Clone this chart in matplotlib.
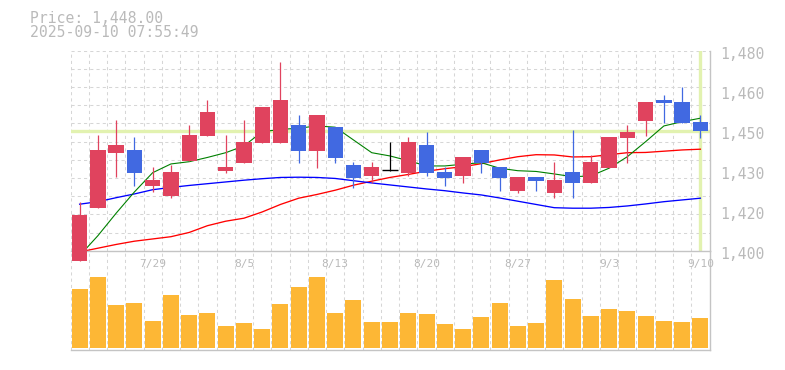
import matplotlib
matplotlib.use("Agg")
import matplotlib.pyplot as plt
from matplotlib.transforms import ScaledTranslation, blended_transform_factory
import numpy as np

# ---------------- data ----------------
dates = ["7/23", "7/24", "7/25", "7/28", "7/29", "7/30", "7/31", "8/1", "8/4", "8/5",
         "8/6", "8/7", "8/8", "8/12", "8/13", "8/14", "8/15", "8/18", "8/19", "8/20",
         "8/21", "8/22", "8/25", "8/26", "8/27", "8/28", "8/29", "9/1", "9/2", "9/3",
         "9/4", "9/5", "9/8", "9/9", "9/10"]

opens = [1396.0, 1417.2, 1439.2, 1440.3, 1426.0, 1422.0, 1436.0, 1446.0, 1432.0, 1435.2,
         1443.2, 1443.2, 1450.3, 1440.0, 1449.5, 1434.3, 1430.0, 1432.2, 1431.2, 1442.3,
         1431.5, 1430.0, 1440.3, 1433.5, 1424.0, 1429.5, 1423.2, 1431.5, 1427.2, 1433.2,
         1445.2, 1452.0, 1460.3, 1459.5, 1451.6]
highs = [1419.4, 1446.3, 1452.3, 1445.5, 1433.5, 1434.3, 1450.3, 1460.3, 1446.3, 1452.3,
         1457.5, 1475.6, 1454.3, 1454.3, 1449.5, 1435.5, 1435.5, 1443.5, 1445.6, 1447.5,
         1433.6, 1437.5, 1440.3, 1433.5, 1429.5, 1429.5, 1435.5, 1448.3, 1438.3, 1445.5,
         1450.3, 1459.5, 1462.3, 1465.5, 1454.3]
lows = [1396.0, 1417.2, 1429.4, 1426.0, 1423.4, 1421.2, 1436.0, 1446.0, 1431.2, 1435.2,
        1443.2, 1443.2, 1435.2, 1433.2, 1435.2, 1425.2, 1427.0, 1432.0, 1429.9, 1429.9,
        1426.0, 1427.2, 1431.2, 1424.0, 1423.2, 1424.0, 1421.2, 1421.2, 1427.2, 1433.2,
        1435.2, 1445.9, 1451.2, 1451.2, 1445.2]
closes = [1414.3, 1440.3, 1442.3, 1431.2, 1428.3, 1431.5, 1446.3, 1455.5, 1433.5, 1443.5,
          1457.5, 1460.3, 1440.0, 1454.3, 1437.2, 1429.2, 1433.5, 1432.2, 1443.5, 1431.2,
          1429.2, 1437.5, 1435.2, 1429.2, 1429.5, 1428.0, 1428.3, 1427.2, 1435.5, 1445.5,
          1447.5, 1459.5, 1459.2, 1451.2, 1448.0]

ma_short = [1398.0, 1406.0, 1415.0, 1423.5, 1431.2, 1434.7, 1435.6, 1437.3, 1439.2, 1441.9,
            1447.6, 1448.5, 1449.0, 1449.9, 1449.4, 1444.3, 1439.2, 1437.9, 1436.0, 1433.9,
            1433.9, 1434.6, 1435.2, 1433.0, 1432.0, 1431.7, 1430.7, 1429.6, 1429.9, 1433.0,
            1437.6, 1443.6, 1449.9, 1451.6, 1453.0]
ma_mid = [1418.6, 1419.6, 1421.2, 1422.7, 1424.4, 1425.3, 1426.1, 1426.8, 1427.5, 1428.2,
          1428.8, 1429.3, 1429.4, 1429.3, 1428.9, 1428.0, 1427.1, 1426.3, 1425.5, 1424.7,
          1424.0, 1423.1, 1422.3, 1421.1, 1419.8, 1418.5, 1417.2, 1417.0, 1417.0, 1417.3,
          1417.9, 1418.7, 1419.6, 1420.3, 1421.0]
ma_long = [1399.5, 1401.0, 1402.5, 1403.8, 1404.7, 1405.6, 1407.3, 1410.0, 1411.8, 1413.0,
           1415.5, 1418.5, 1421.0, 1422.5, 1424.2, 1426.2, 1427.8, 1429.3, 1430.5, 1431.8,
           1432.8, 1433.6, 1434.8, 1436.3, 1437.6, 1438.4, 1438.3, 1437.5, 1437.6, 1438.4,
           1439.2, 1439.3, 1439.8, 1440.3, 1440.6]

volumes = [178, 215, 130, 137, 82, 160, 100, 107, 67, 77,
           58, 133, 184, 215, 107, 145, 80, 80, 107, 104,
           73, 58, 94, 137, 67, 77, 205, 148, 97, 118,
           112, 97, 82, 80, 91]
volumes = [v * 1000 for v in volumes]

xlabel_dates = ["7/29", "8/5", "8/13", "8/20", "8/27", "9/3", "9/10"]
ytick_values = [1400, 1416, 1432, 1448, 1464, 1480]
ytick_labels = ["1,400", "1,420", "1,430", "1,450", "1,460", "1,480"]
price_text = "Price: 1,448.00"
time_text = "2025-09-10 07:55:49"
current_price = 1448.0

# ---------------- style ----------------
UP = "#e0435e"
DOWN = "#4169e1"
EVEN = "#000000"
VOLC = "#fdb735"
GRID = "#d6d6d6"
SPINE = "#c4c4c4"
TXT = "#bababa"
CUR = "#e2f2b0"
MONO = "DejaVu Sans Mono"

W, H = 785, 370
fig = plt.figure(figsize=(W / 100, H / 100), dpi=100)
fig.patch.set_facecolor("white")

left, right = 70.5, 709.5
main_top, main_bot = 50.7, 250.7
vol_bot = 350.0

ax_v = fig.add_axes([left / W, 1 - vol_bot / H, (right - left) / W, (vol_bot - main_bot) / H])
ax = fig.add_axes([left / W, 1 - main_bot / H, (right - left) / W, (main_bot - main_top) / H])
ax.set_facecolor("none")

n = len(dates)
x = np.arange(n)

for a in (ax, ax_v):
    a.set_xlim(-0.5, n - 0.5)
    a.set_xticks([])
    a.set_yticks([])
    for s in ("top", "left"):
        a.spines[s].set_visible(False)
    for s in ("bottom", "right"):
        a.spines[s].set_color(SPINE)
        a.spines[s].set_linewidth(1.0)
    # vertical dashed grid at slot boundaries
    for k in range(n):
        a.axvline(k - 0.5, color=GRID, lw=0.75, ls=(0, (3, 3)), zorder=0)

ymin, ymax = 1400, 1480
ax.set_ylim(ymin, ymax)
for yy in np.linspace(ymin, ymax, 12)[1:]:
    ax.axhline(yy, color=GRID, lw=0.75, ls=(0, (3, 3)), zorder=0)

# current price lines
ax.axhline(current_price, color=CUR, lw=2.4, zorder=1)
ax.axvline(x[-1], color=CUR, lw=2.4, zorder=1)

# moving averages
ax.plot(x, ma_long, color="#ff0000", lw=0.95, zorder=2)
ax.plot(x, ma_mid, color="#0000ff", lw=0.95, zorder=2)
ax.plot(x, ma_short, color="#008000", lw=0.8, zorder=2)

# candles
cw = 0.84
for i in range(n):
    o, h, l, c = opens[i], highs[i], lows[i], closes[i]
    col = UP if c > o else (DOWN if c < o else EVEN)
    ax.vlines(x[i], l, h, color=col, lw=0.9, zorder=3, clip_on=False)
    if c == o:
        ax.hlines(c, x[i] - cw / 2, x[i] + cw / 2, color=col, lw=1.0, zorder=4)
    else:
        ax.bar(x[i], abs(c - o), bottom=min(o, c), width=cw, color=col,
               linewidth=0, zorder=4, clip_on=False)

# y labels on right
ax.yaxis.tick_right()
ax.set_yticks(ytick_values)
ax.set_yticklabels(ytick_labels, fontfamily=MONO, fontsize=10.6, color=TXT)
ax.tick_params(axis="y", length=0, pad=8)
off = ScaledTranslation(0, -2.4 / 100, fig.dpi_scale_trans)
for lab in ax.get_yticklabels():
    lab.set_transform(lab.get_transform() + off)

# volume
ax_v.bar(x, volumes, width=0.875, color=VOLC, linewidth=0, zorder=2)
vmax = max(volumes)
ax_v.set_ylim(-vmax * 5 / 215, vmax * 293 / 215)

# date labels
tr = blended_transform_factory(ax_v.transData, ax_v.transAxes)
for d in xlabel_dates:
    ax_v.text(dates.index(d), 0.839, d, transform=tr, ha="center", va="baseline",
              fontfamily=MONO, fontsize=8.0, color=TXT, zorder=3)

# header text
fig.text(30 / W, 1 - 22.7 / H, price_text, ha="left", va="baseline",
         fontfamily=MONO, fontsize=10.6, color=TXT)
fig.text(30 / W, 1 - 37.3 / H, time_text, ha="left", va="baseline",
         fontfamily=MONO, fontsize=10.6, color=TXT)

fig.savefig("out.png", dpi=100, facecolor="white")
